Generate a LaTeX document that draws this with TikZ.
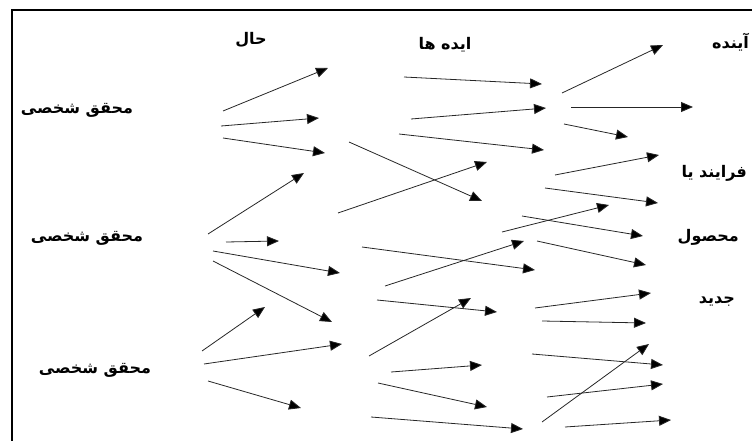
\documentclass[tikz,border=0pt]{standalone}
\usepackage{fontspec}
\usetikzlibrary{arrows.meta}
\TeXXeTstate=1
\newfontfamily\arabicfont[Script=Arabic]{DejaVu Sans}
\begin{document}
\begin{tikzpicture}[x=1pt,y=-1pt,
  arr/.style={draw=black!85, line width=0.8pt, -{Triangle[length=12pt,width=10pt,fill=black]}},
  lbl/.style={font=\arabicfont\bfseries\fontsize{16}{18}\selectfont, inner sep=0pt}]
\useasboundingbox (0,0) rectangle (752,441);
\draw[line width=2pt] (12,441) -- (12,10) -- (752,10);
% labels
\node[lbl] (hal) at (251,40) {\beginR حال\endR};
\node[lbl] (ideha) at (445,45) {\beginR ایده ها\endR};
\node[lbl, anchor=east] (ayande) at (749,42) {\beginR آینده\endR};
\node[lbl, anchor=east] (farayand) at (747,173) {\beginR فرایند یا\endR};
\node[lbl, anchor=east] (mahsul) at (739,237) {\beginR محصول\endR};
\node[lbl, anchor=east] (jadid) at (735,302) {\beginR جدید\endR};
\node[lbl] (m1) at (77,110) {\beginR محقق شخصی\endR};
\node[lbl] (m2) at (87,238) {\beginR محقق شخصی\endR};
\node[lbl] (m3) at (95,370) {\beginR محقق شخصی\endR};
% arrows
\foreach \n/\xa/\ya/\xb/\yb in {
  a1/223/111/328/68, a2/221/126/319/118, a3/223/138/325/153, a4/208/234/304/173,
  x1/349/142/482/201, x2/338/213/487/162,
  b1/404/77/542/84, b2/411/119/546/108, b3/399/134/544/150,
  c1/562/93/663/45, c2/571/107/693/107, c3/564/124/628/137,
  c4/555/175/659/155, c5/545/188/658/203, c6/502/232/609/205,
  c7/522/216/643/236, c8/537/241/646/265,
  d1/362/247/535/270, d2/385/286/524/241, d3/377/300/497/312,
  d4/369/356/471/298, d5/391/372/482/365, d6/378/383/487/407, d7/371/417/523/429,
  e1/535/308/651/293, e2/542/321/646/323, e3/532/354/663/365,
  e4/547/397/663/384, e5/542/422/649/344, e6/565/427/671/420,
  f1/226/242/279/241, f2/213/251/340/273, f3/213/261/332/322,
  g1/202/351/265/307, g2/204/364/342/344, g3/208/381/301/408}
{
  \coordinate (s\n) at (\xa,\ya);
  \coordinate (t\n) at (\xb,\yb);
  \draw[arr] (s\n) -- (t\n);
}
\end{tikzpicture}
\end{document}
